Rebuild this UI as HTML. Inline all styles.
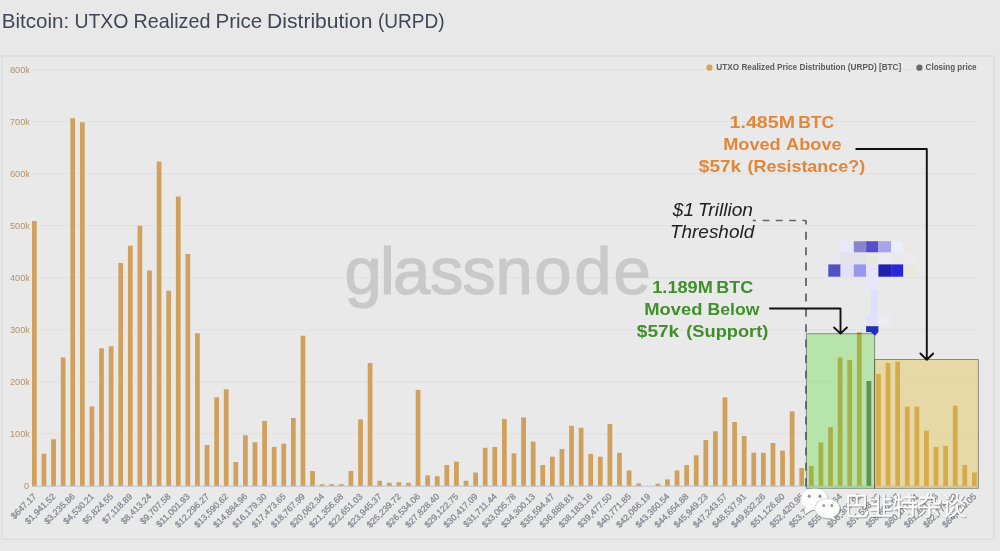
<!DOCTYPE html>
<html lang="en"><head><meta charset="utf-8"><title>Bitcoin: UTXO Realized Price Distribution (URPD)</title>
<style>
html,body{margin:0;padding:0;background:#e8e8e8;}
body{width:1000px;height:551px;overflow:hidden;position:relative;font-family:"Liberation Sans","Noto Sans CJK SC",sans-serif;}
svg{position:absolute;left:0;top:0;display:block;filter:blur(0.4px)}
text{font-family:"Liberation Sans","Noto Sans CJK SC",sans-serif}
.yl{font-size:9.2px;fill:#b6936a}
.xl{font-size:8.8px;fill:#80848e;stroke:#80848e;stroke-width:0.22px}
.lg{font-size:8.6px;fill:#5c5c5c;font-weight:bold}
.or{font-size:17px;font-weight:bold;fill:#e0873a;}
.gr{font-size:17px;font-weight:bold;fill:#3f8f2a;}
.it{font-size:19px;font-style:italic;fill:#222;}
.wm{font-size:67px;fill:#c9c9c9;stroke:#c9c9c9;stroke-width:1.2px}
.cn{font-family:"Liberation Sans","Noto Sans CJK SC","WenQuanYi Zen Hei",sans-serif;font-weight:300;font-size:25px;fill:#fff;stroke:#fff;stroke-width:0.45px}
</style></head><body>
<svg width="1000" height="551" viewBox="0 0 1000 551">

<rect x="0" y="0" width="1000" height="551" fill="#e8e8e8"/>
<text y="27.5" font-size="20.2" fill="#414656"><tspan x="1.80" textLength="67.40" lengthAdjust="spacingAndGlyphs">Bitcoin:</tspan> <tspan x="74.40" textLength="54.10" lengthAdjust="spacingAndGlyphs">UTXO</tspan> <tspan x="133.60" textLength="76.80" lengthAdjust="spacingAndGlyphs">Realized</tspan> <tspan x="215.50" textLength="46.80" lengthAdjust="spacingAndGlyphs">Price</tspan> <tspan x="267.10" textLength="105.40" lengthAdjust="spacingAndGlyphs">Distribution</tspan> <tspan x="378.00" textLength="66.50" lengthAdjust="spacingAndGlyphs">(URPD)</tspan></text>
<rect x="1.9" y="56" width="992" height="483.2" fill="#e9e9e9" stroke="#dbdddb" stroke-width="1.4"/>
<text class="yl" x="29" y="489.40" text-anchor="end">0</text>
<line x1="32" y1="433.85" x2="978" y2="433.85" stroke="#e0e0e0" stroke-width="1"/>
<text class="yl" x="10" y="437.35">100k</text>
<line x1="32" y1="381.80" x2="978" y2="381.80" stroke="#e0e0e0" stroke-width="1"/>
<text class="yl" x="10" y="385.30">200k</text>
<line x1="32" y1="329.75" x2="978" y2="329.75" stroke="#e0e0e0" stroke-width="1"/>
<text class="yl" x="10" y="333.25">300k</text>
<line x1="32" y1="277.70" x2="978" y2="277.70" stroke="#e0e0e0" stroke-width="1"/>
<text class="yl" x="10" y="281.20">400k</text>
<line x1="32" y1="225.65" x2="978" y2="225.65" stroke="#e0e0e0" stroke-width="1"/>
<text class="yl" x="10" y="229.15">500k</text>
<line x1="32" y1="173.60" x2="978" y2="173.60" stroke="#e0e0e0" stroke-width="1"/>
<text class="yl" x="10" y="177.10">600k</text>
<line x1="32" y1="121.55" x2="978" y2="121.55" stroke="#e0e0e0" stroke-width="1"/>
<text class="yl" x="10" y="125.05">700k</text>
<line x1="32" y1="69.50" x2="978" y2="69.50" stroke="#e0e0e0" stroke-width="1"/>
<text class="yl" x="10" y="73.00">800k</text>
<text class="wm" x="344.5 380.1 392.9 430.1 462.3 495.4 534.3 574.2 613.5" y="294">glassnode</text>
<line x1="32" y1="486.3" x2="978" y2="486.3" stroke="#c9cdd9" stroke-width="1.4"/>
<rect x="32.00" y="221.00" width="4.75" height="264.80" fill="#d0a15d"/>
<rect x="41.59" y="453.75" width="4.75" height="32.05" fill="#d0a15d"/>
<rect x="51.18" y="439.25" width="4.75" height="46.55" fill="#d0a15d"/>
<rect x="60.78" y="357.50" width="4.75" height="128.30" fill="#d0a15d"/>
<rect x="70.37" y="118.25" width="4.75" height="367.55" fill="#d0a15d"/>
<rect x="79.96" y="122.25" width="4.75" height="363.55" fill="#d0a15d"/>
<rect x="89.55" y="406.50" width="4.75" height="79.30" fill="#d0a15d"/>
<rect x="99.14" y="348.25" width="4.75" height="137.55" fill="#d0a15d"/>
<rect x="108.74" y="346.25" width="4.75" height="139.55" fill="#d0a15d"/>
<rect x="118.33" y="263.00" width="4.75" height="222.80" fill="#d0a15d"/>
<rect x="127.92" y="245.75" width="4.75" height="240.05" fill="#d0a15d"/>
<rect x="137.51" y="225.75" width="4.75" height="260.05" fill="#d0a15d"/>
<rect x="147.10" y="270.50" width="4.75" height="215.30" fill="#d0a15d"/>
<rect x="156.70" y="161.50" width="4.75" height="324.30" fill="#d0a15d"/>
<rect x="166.29" y="290.75" width="4.75" height="195.05" fill="#d0a15d"/>
<rect x="175.88" y="196.50" width="4.75" height="289.30" fill="#d0a15d"/>
<rect x="185.47" y="254.00" width="4.75" height="231.80" fill="#d0a15d"/>
<rect x="195.06" y="333.25" width="4.75" height="152.55" fill="#d0a15d"/>
<rect x="204.66" y="445.00" width="4.75" height="40.80" fill="#d0a15d"/>
<rect x="214.25" y="397.25" width="4.75" height="88.55" fill="#d0a15d"/>
<rect x="223.84" y="389.25" width="4.75" height="96.55" fill="#d0a15d"/>
<rect x="233.43" y="462.00" width="4.75" height="23.80" fill="#d0a15d"/>
<rect x="243.02" y="435.25" width="4.75" height="50.55" fill="#d0a15d"/>
<rect x="252.62" y="442.25" width="4.75" height="43.55" fill="#d0a15d"/>
<rect x="262.21" y="421.00" width="4.75" height="64.80" fill="#d0a15d"/>
<rect x="271.80" y="447.00" width="4.75" height="38.80" fill="#d0a15d"/>
<rect x="281.39" y="443.80" width="4.75" height="42.00" fill="#d0a15d"/>
<rect x="290.98" y="418.00" width="4.75" height="67.80" fill="#d0a15d"/>
<rect x="300.58" y="335.70" width="4.75" height="150.10" fill="#d0a15d"/>
<rect x="310.17" y="471.00" width="4.75" height="14.80" fill="#d0a15d"/>
<rect x="319.76" y="484.20" width="4.75" height="1.60" fill="#d0a15d"/>
<rect x="329.35" y="484.20" width="4.75" height="1.60" fill="#d0a15d"/>
<rect x="338.94" y="484.20" width="4.75" height="1.60" fill="#d0a15d"/>
<rect x="348.54" y="471.00" width="4.75" height="14.80" fill="#d0a15d"/>
<rect x="358.13" y="419.40" width="4.75" height="66.40" fill="#d0a15d"/>
<rect x="367.72" y="363.00" width="4.75" height="122.80" fill="#d0a15d"/>
<rect x="377.31" y="480.80" width="4.75" height="5.00" fill="#d0a15d"/>
<rect x="386.90" y="482.80" width="4.75" height="3.00" fill="#d0a15d"/>
<rect x="396.50" y="482.20" width="4.75" height="3.60" fill="#d0a15d"/>
<rect x="406.09" y="482.80" width="4.75" height="3.00" fill="#d0a15d"/>
<rect x="415.68" y="389.90" width="4.75" height="95.90" fill="#d0a15d"/>
<rect x="425.27" y="475.40" width="4.75" height="10.40" fill="#d0a15d"/>
<rect x="434.86" y="476.20" width="4.75" height="9.60" fill="#d0a15d"/>
<rect x="444.46" y="465.00" width="4.75" height="20.80" fill="#d0a15d"/>
<rect x="454.05" y="461.60" width="4.75" height="24.20" fill="#d0a15d"/>
<rect x="463.64" y="480.80" width="4.75" height="5.00" fill="#d0a15d"/>
<rect x="473.23" y="472.50" width="4.75" height="13.30" fill="#d0a15d"/>
<rect x="482.82" y="447.80" width="4.75" height="38.00" fill="#d0a15d"/>
<rect x="492.42" y="447.00" width="4.75" height="38.80" fill="#d0a15d"/>
<rect x="502.01" y="418.90" width="4.75" height="66.90" fill="#d0a15d"/>
<rect x="511.60" y="453.30" width="4.75" height="32.50" fill="#d0a15d"/>
<rect x="521.19" y="417.40" width="4.75" height="68.40" fill="#d0a15d"/>
<rect x="530.78" y="441.50" width="4.75" height="44.30" fill="#d0a15d"/>
<rect x="540.38" y="465.00" width="4.75" height="20.80" fill="#d0a15d"/>
<rect x="549.97" y="456.70" width="4.75" height="29.10" fill="#d0a15d"/>
<rect x="559.56" y="449.00" width="4.75" height="36.80" fill="#d0a15d"/>
<rect x="569.15" y="425.80" width="4.75" height="60.00" fill="#d0a15d"/>
<rect x="578.74" y="427.80" width="4.75" height="58.00" fill="#d0a15d"/>
<rect x="588.34" y="453.90" width="4.75" height="31.90" fill="#d0a15d"/>
<rect x="597.93" y="456.70" width="4.75" height="29.10" fill="#d0a15d"/>
<rect x="607.52" y="424.00" width="4.75" height="61.80" fill="#d0a15d"/>
<rect x="617.11" y="452.70" width="4.75" height="33.10" fill="#d0a15d"/>
<rect x="626.70" y="470.50" width="4.75" height="15.30" fill="#d0a15d"/>
<rect x="636.30" y="483.40" width="4.75" height="2.40" fill="#d0a15d"/>
<rect x="655.48" y="483.70" width="4.75" height="2.10" fill="#d0a15d"/>
<rect x="665.07" y="479.40" width="4.75" height="6.40" fill="#d0a15d"/>
<rect x="674.66" y="470.50" width="4.75" height="15.30" fill="#d0a15d"/>
<rect x="684.26" y="465.00" width="4.75" height="20.80" fill="#d0a15d"/>
<rect x="693.85" y="455.30" width="4.75" height="30.50" fill="#d0a15d"/>
<rect x="703.44" y="440.10" width="4.75" height="45.70" fill="#d0a15d"/>
<rect x="713.03" y="431.20" width="4.75" height="54.60" fill="#d0a15d"/>
<rect x="722.62" y="397.40" width="4.75" height="88.40" fill="#d0a15d"/>
<rect x="732.22" y="422.00" width="4.75" height="63.80" fill="#d0a15d"/>
<rect x="741.81" y="436.10" width="4.75" height="49.70" fill="#d0a15d"/>
<rect x="751.40" y="452.70" width="4.75" height="33.10" fill="#d0a15d"/>
<rect x="760.99" y="452.70" width="4.75" height="33.10" fill="#d0a15d"/>
<rect x="770.58" y="443.00" width="4.75" height="42.80" fill="#d0a15d"/>
<rect x="780.18" y="450.70" width="4.75" height="35.10" fill="#d0a15d"/>
<rect x="789.77" y="411.40" width="4.75" height="74.40" fill="#d0a15d"/>
<rect x="799.36" y="467.90" width="4.75" height="17.90" fill="#d0a15d"/>
<rect x="808.95" y="465.90" width="4.75" height="19.90" fill="#d0a15d"/>
<rect x="818.54" y="442.40" width="4.75" height="43.40" fill="#d0a15d"/>
<rect x="828.14" y="427.20" width="4.75" height="58.60" fill="#d0a15d"/>
<rect x="837.73" y="357.50" width="4.75" height="128.30" fill="#d0a15d"/>
<rect x="847.32" y="360.10" width="4.75" height="125.70" fill="#d0a15d"/>
<rect x="856.91" y="332.30" width="4.75" height="153.50" fill="#d0a15d"/>
<rect x="866.50" y="381.00" width="4.75" height="104.80" fill="#6f6f6f"/>
<rect x="876.10" y="373.90" width="4.75" height="111.90" fill="#d0a15d"/>
<rect x="885.69" y="363.00" width="4.75" height="122.80" fill="#d0a15d"/>
<rect x="895.28" y="361.80" width="4.75" height="124.00" fill="#d0a15d"/>
<rect x="904.87" y="406.50" width="4.75" height="79.30" fill="#d0a15d"/>
<rect x="914.46" y="406.50" width="4.75" height="79.30" fill="#d0a15d"/>
<rect x="924.06" y="430.60" width="4.75" height="55.20" fill="#d0a15d"/>
<rect x="933.65" y="447.00" width="4.75" height="38.80" fill="#d0a15d"/>
<rect x="943.24" y="445.80" width="4.75" height="40.00" fill="#d0a15d"/>
<rect x="952.83" y="405.70" width="4.75" height="80.10" fill="#d0a15d"/>
<rect x="962.42" y="465.00" width="4.75" height="20.80" fill="#d0a15d"/>
<rect x="972.02" y="472.50" width="4.75" height="13.30" fill="#d0a15d"/>
<text class="xl" text-anchor="end" transform="translate(36.98,497.00) rotate(-45)">$647.17</text>
<text class="xl" text-anchor="end" transform="translate(56.16,497.00) rotate(-45)">$1,941.52</text>
<text class="xl" text-anchor="end" transform="translate(75.34,497.00) rotate(-45)">$3,235.86</text>
<text class="xl" text-anchor="end" transform="translate(94.53,497.00) rotate(-45)">$4,530.21</text>
<text class="xl" text-anchor="end" transform="translate(113.71,497.00) rotate(-45)">$5,824.55</text>
<text class="xl" text-anchor="end" transform="translate(132.90,497.00) rotate(-45)">$7,118.89</text>
<text class="xl" text-anchor="end" transform="translate(152.08,497.00) rotate(-45)">$8,413.24</text>
<text class="xl" text-anchor="end" transform="translate(171.26,497.00) rotate(-45)">$9,707.58</text>
<text class="xl" text-anchor="end" transform="translate(190.45,497.00) rotate(-45)">$11,001.93</text>
<text class="xl" text-anchor="end" transform="translate(209.63,497.00) rotate(-45)">$12,296.27</text>
<text class="xl" text-anchor="end" transform="translate(228.81,497.00) rotate(-45)">$13,590.62</text>
<text class="xl" text-anchor="end" transform="translate(248.00,497.00) rotate(-45)">$14,884.96</text>
<text class="xl" text-anchor="end" transform="translate(267.18,497.00) rotate(-45)">$16,179.30</text>
<text class="xl" text-anchor="end" transform="translate(286.37,497.00) rotate(-45)">$17,473.65</text>
<text class="xl" text-anchor="end" transform="translate(305.55,497.00) rotate(-45)">$18,767.99</text>
<text class="xl" text-anchor="end" transform="translate(324.74,497.00) rotate(-45)">$20,062.34</text>
<text class="xl" text-anchor="end" transform="translate(343.92,497.00) rotate(-45)">$21,356.68</text>
<text class="xl" text-anchor="end" transform="translate(363.10,497.00) rotate(-45)">$22,651.03</text>
<text class="xl" text-anchor="end" transform="translate(382.29,497.00) rotate(-45)">$23,945.37</text>
<text class="xl" text-anchor="end" transform="translate(401.47,497.00) rotate(-45)">$25,239.72</text>
<text class="xl" text-anchor="end" transform="translate(420.66,497.00) rotate(-45)">$26,534.06</text>
<text class="xl" text-anchor="end" transform="translate(439.84,497.00) rotate(-45)">$27,828.40</text>
<text class="xl" text-anchor="end" transform="translate(459.02,497.00) rotate(-45)">$29,122.75</text>
<text class="xl" text-anchor="end" transform="translate(478.21,497.00) rotate(-45)">$30,417.09</text>
<text class="xl" text-anchor="end" transform="translate(497.39,497.00) rotate(-45)">$31,711.44</text>
<text class="xl" text-anchor="end" transform="translate(516.58,497.00) rotate(-45)">$33,005.78</text>
<text class="xl" text-anchor="end" transform="translate(535.76,497.00) rotate(-45)">$34,300.13</text>
<text class="xl" text-anchor="end" transform="translate(554.94,497.00) rotate(-45)">$35,594.47</text>
<text class="xl" text-anchor="end" transform="translate(574.13,497.00) rotate(-45)">$36,888.81</text>
<text class="xl" text-anchor="end" transform="translate(593.31,497.00) rotate(-45)">$38,183.16</text>
<text class="xl" text-anchor="end" transform="translate(612.50,497.00) rotate(-45)">$39,477.50</text>
<text class="xl" text-anchor="end" transform="translate(631.68,497.00) rotate(-45)">$40,771.85</text>
<text class="xl" text-anchor="end" transform="translate(650.86,497.00) rotate(-45)">$42,066.19</text>
<text class="xl" text-anchor="end" transform="translate(670.05,497.00) rotate(-45)">$43,360.54</text>
<text class="xl" text-anchor="end" transform="translate(689.23,497.00) rotate(-45)">$44,654.88</text>
<text class="xl" text-anchor="end" transform="translate(708.42,497.00) rotate(-45)">$45,949.23</text>
<text class="xl" text-anchor="end" transform="translate(727.60,497.00) rotate(-45)">$47,243.57</text>
<text class="xl" text-anchor="end" transform="translate(746.78,497.00) rotate(-45)">$48,537.91</text>
<text class="xl" text-anchor="end" transform="translate(765.97,497.00) rotate(-45)">$49,832.26</text>
<text class="xl" text-anchor="end" transform="translate(785.15,497.00) rotate(-45)">$51,126.60</text>
<text class="xl" text-anchor="end" transform="translate(804.34,497.00) rotate(-45)">$52,420.95</text>
<text class="xl" text-anchor="end" transform="translate(823.52,497.00) rotate(-45)">$53,715.29</text>
<text class="xl" text-anchor="end" transform="translate(842.70,497.00) rotate(-45)">$55,009.64</text>
<text class="xl" text-anchor="end" transform="translate(861.89,497.00) rotate(-45)">$56,303.98</text>
<text class="xl" text-anchor="end" transform="translate(881.07,497.00) rotate(-45)">$57,598.32</text>
<text class="xl" text-anchor="end" transform="translate(900.26,497.00) rotate(-45)">$58,892.67</text>
<text class="xl" text-anchor="end" transform="translate(919.44,497.00) rotate(-45)">$60,187.01</text>
<text class="xl" text-anchor="end" transform="translate(938.62,497.00) rotate(-45)">$61,481.36</text>
<text class="xl" text-anchor="end" transform="translate(957.81,497.00) rotate(-45)">$62,775.70</text>
<text class="xl" text-anchor="end" transform="translate(976.99,497.00) rotate(-45)">$64,070.05</text>
<rect x="806.4" y="333.7" width="68.2" height="154.6" fill="rgba(69,218,25,0.3)" stroke="rgba(50,55,40,0.5)" stroke-width="1"/>
<rect x="874.6" y="359.5" width="103.8" height="128.8" fill="rgba(226,189,43,0.35)" stroke="rgba(50,50,40,0.5)" stroke-width="1"/>
<path d="M752.7 220.5 H806" fill="none" stroke="#666" stroke-width="1.4" stroke-dasharray="6.8 6.5" stroke-dashoffset="3.5"/>
<path d="M806 220.5 V488.3" fill="none" stroke="#555" stroke-width="1.6" stroke-dasharray="8 7.4" stroke-dashoffset="4.1"/>
<text class="or" y="128.2"><tspan x="729.64" textLength="65.35" lengthAdjust="spacingAndGlyphs">1.485M</tspan> <tspan x="798.20" textLength="36.00" lengthAdjust="spacingAndGlyphs">BTC</tspan></text>
<text class="or" y="149.8"><tspan x="723.20" textLength="57.50" lengthAdjust="spacingAndGlyphs">Moved</tspan> <tspan x="786.12" textLength="55.48" lengthAdjust="spacingAndGlyphs">Above</tspan></text>
<text class="or" y="171.9"><tspan x="698.87" textLength="42.24" lengthAdjust="spacingAndGlyphs">$57k</tspan> <tspan x="747.54" textLength="117.66" lengthAdjust="spacingAndGlyphs">(Resistance?)</tspan></text>
<text class="it" y="216.4"><tspan x="672.80" textLength="21.21" lengthAdjust="spacingAndGlyphs">$1</tspan> <tspan x="697.97" textLength="55.02" lengthAdjust="spacingAndGlyphs">Trillion</tspan></text>
<text class="it" y="237.6"><tspan x="669.98" textLength="84.22" lengthAdjust="spacingAndGlyphs">Threshold</tspan></text>
<text class="gr" y="293.4"><tspan x="652.27" textLength="60.47" lengthAdjust="spacingAndGlyphs">1.189M</tspan> <tspan x="716.24" textLength="36.89" lengthAdjust="spacingAndGlyphs">BTC</tspan></text>
<text class="gr" y="315.3"><tspan x="644.25" textLength="58.10" lengthAdjust="spacingAndGlyphs">Moved</tspan> <tspan x="707.62" textLength="51.80" lengthAdjust="spacingAndGlyphs">Below</tspan></text>
<text class="gr" y="337.4"><tspan x="636.80" textLength="42.41" lengthAdjust="spacingAndGlyphs">$57k</tspan> <tspan x="686.19" textLength="82.22" lengthAdjust="spacingAndGlyphs">(Support)</tspan></text>
<path d="M855.5 149 H926.8 V359" fill="none" stroke="#111" stroke-width="1.9" stroke-linejoin="round"/>
<path d="M920.4 353.5 L926.8 359.7 L933.2 353.5" fill="none" stroke="#111" stroke-width="1.9" stroke-linecap="round" stroke-linejoin="round"/>
<path d="M769.2 308.5 H840.5 V333" fill="none" stroke="#111" stroke-width="1.9" stroke-linejoin="round"/>
<path d="M834.1 327.5 L840.5 333.6 L846.9 327.5" fill="none" stroke="#111" stroke-width="1.9" stroke-linecap="round" stroke-linejoin="round"/>
<rect x="840.6" y="241.2" width="13.2" height="11.3" fill="#e8e8fc"/>
<rect x="853.8" y="241.2" width="12.3" height="11.3" fill="#8a86cc"/>
<rect x="866.1" y="241.2" width="12.3" height="11.3" fill="#5650c8"/>
<rect x="878.4" y="241.2" width="12.7" height="11.3" fill="#a8a4e8"/>
<rect x="891.1" y="241.2" width="12.3" height="11.3" fill="#ecedfb"/>
<rect x="903.4" y="241.2" width="12.3" height="11.3" fill="#eae8e0"/>
<rect x="828.3" y="252.6" width="12.3" height="11.8" fill="#e9e8ec"/>
<rect x="840.6" y="252.6" width="13.2" height="11.8" fill="#e4e2e8"/>
<rect x="853.8" y="252.6" width="12.3" height="11.8" fill="#e2e2ea"/>
<rect x="866.1" y="252.6" width="12.3" height="11.8" fill="#e8e8e0"/>
<rect x="878.4" y="252.6" width="12.7" height="11.8" fill="#ececf0"/>
<rect x="891.1" y="252.6" width="12.3" height="11.8" fill="#e9e9e9"/>
<rect x="903.4" y="252.6" width="12.3" height="11.8" fill="#ebebef"/>
<rect x="820.1" y="264.4" width="8.3" height="12.3" fill="#e8e6f0"/>
<rect x="828.3" y="264.4" width="12.3" height="12.3" fill="#5350c0"/>
<rect x="840.6" y="264.4" width="13.2" height="12.3" fill="#e0e0fc"/>
<rect x="853.8" y="264.4" width="12.3" height="12.3" fill="#9a96ec"/>
<rect x="866.1" y="264.4" width="12.3" height="12.3" fill="#e4e2fc"/>
<rect x="878.4" y="264.4" width="12.7" height="12.3" fill="#2020b0"/>
<rect x="891.1" y="264.4" width="12.3" height="12.3" fill="#2828d8"/>
<rect x="903.4" y="264.4" width="12.3" height="12.3" fill="#e8e8dc"/>
<rect x="866.1" y="276.7" width="12.3" height="13.0" fill="#e8e6fc"/>
<rect x="870.8" y="289.6" width="7.6" height="24.8" fill="#e0defa"/>
<rect x="866.1" y="314.4" width="12.3" height="11.8" fill="#e2e0fc"/>
<rect x="878.4" y="314.4" width="12.7" height="11.8" fill="#ececf0"/>
<rect x="866.1" y="326.2" width="12.3" height="5.9" fill="#2030b0"/>
<path d="M870.8 331.9 L878.4 331.9 L875.1 335.7 Z" fill="#2030d0"/>
<circle cx="709.5" cy="67.7" r="3.1" fill="#d9a45a"/>
<text class="lg" x="716.3" y="70.4" textLength="185" lengthAdjust="spacingAndGlyphs">UTXO Realized Price Distribution (URPD) [BTC]</text>
<circle cx="919.4" cy="67.7" r="3.1" fill="#6a6a6a"/>
<text class="lg" x="925.6" y="70.4" textLength="51" lengthAdjust="spacingAndGlyphs">Closing price</text>
<g filter="url(#sh)" opacity="0.93">
<ellipse cx="814.3" cy="499.2" rx="13.3" ry="10.8" fill="#fff"/>
<path d="M805.5 506 L804.6 514.4 L812.5 509.5 Z" fill="#fff"/>
<ellipse cx="827.3" cy="508.3" rx="12.6" ry="10.2" fill="#dcdcdc"/>
<ellipse cx="827.3" cy="508.3" rx="11.7" ry="9.4" fill="#fff"/>
<path d="M832 515.5 L836.6 520.4 L828.5 517.4 Z" fill="#fff"/>
<ellipse cx="809.2" cy="496.3" rx="1.5" ry="1.7" fill="#8e8e8e"/><ellipse cx="820" cy="496.3" rx="1.5" ry="1.7" fill="#8e8e8e"/>
<ellipse cx="823.8" cy="505.6" rx="1.3" ry="1.5" fill="#8e8e8e"/><ellipse cx="831.8" cy="505.6" rx="1.3" ry="1.5" fill="#8e8e8e"/>
</g>
<g filter="url(#sh)">
<text class="cn" x="844.2" y="515.3" textLength="122" lengthAdjust="spacing">巴韭特杂谈</text>
</g>
<defs><filter id="sh" x="-10%" y="-30%" width="120%" height="160%"><feDropShadow dx="0.8" dy="0.8" stdDeviation="0.5" flood-color="#555" flood-opacity="0.7"/></filter></defs>
</svg></body></html>
